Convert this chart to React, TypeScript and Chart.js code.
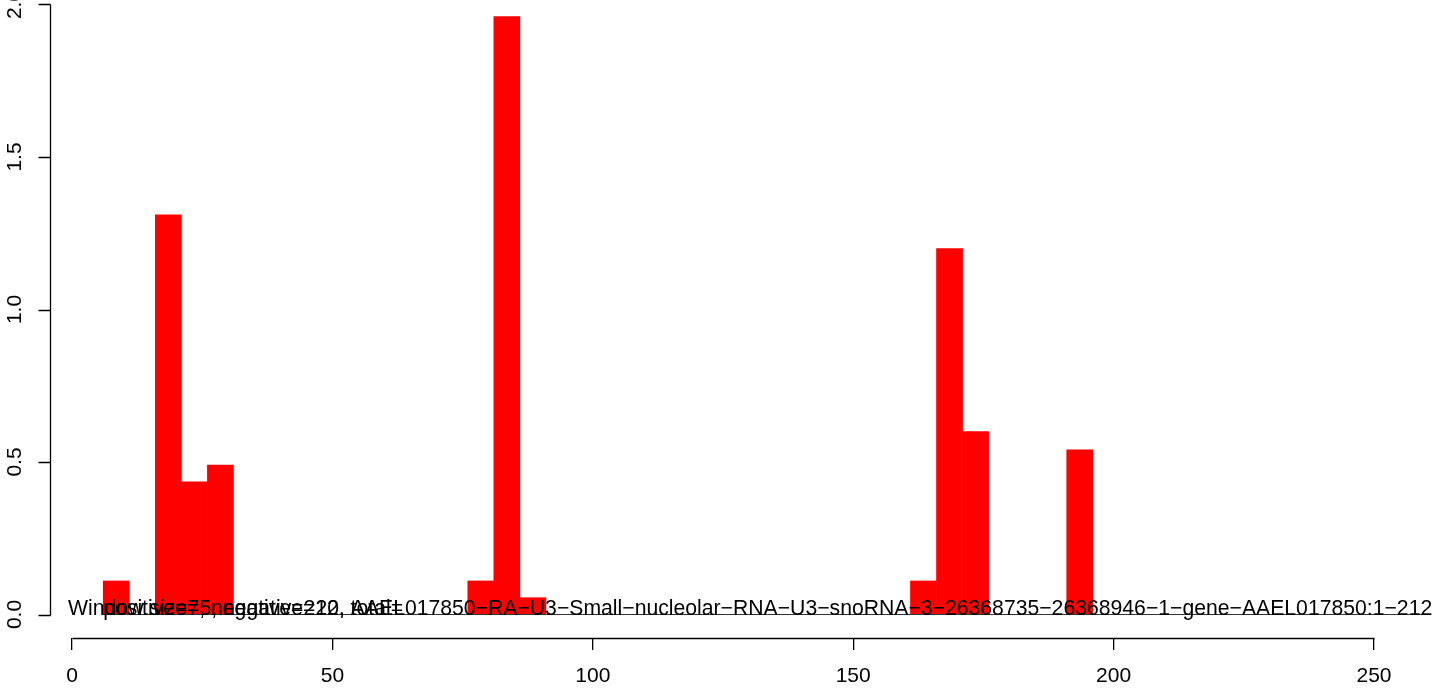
import React, { useEffect, useRef } from 'react';
import { Chart, registerables } from 'chart.js';

Chart.register(...registerables);

// ---- data ----
const binStarts = [6, 16, 21, 26, 76, 81, 86, 161, 166, 171, 191];
const binWidth = 5;
const binValues = [0.11, 1.31, 0.435, 0.49, 0.11, 1.96, 0.055, 0.11, 1.2, 0.6, 0.54];
const xTickValues = [0, 50, 100, 150, 200, 250];
const yTickValues = [0, 0.5, 1.0, 1.5, 2.0];
const yTickLabels = ['0.0', '0.5', '1.0', '1.5', '2.0'];
const baselineSpan = [6, 261];
const labelA =
  'Window size=5, negative=20, AAEL017850\u2212RA\u2212U3\u2212Small\u2212nucleolar\u2212RNA\u2212U3\u2212snoRNA\u22123\u221226368735\u221226368946\u22121\u2212gene\u2212AAEL017850:1\u2212212';
const labelB = 'positive=7, negative=212, total=';
const labelAX = -0.75;
const labelBX = 6;

const FONT = '"Liberation Sans", Arial, Helvetica, sans-serif';

const rAxesPlugin = {
  id: 'rAxes',
  afterDatasetsDraw(chart: any) {
    const { ctx } = chart;
    const xs = chart.scales.x;
    const ys = chart.scales.y;
    const y0 = ys.getPixelForValue(0);
    ctx.save();
    // annotation texts
    ctx.fillStyle = '#000';
    ctx.font = `21.2px ${FONT}`;
    ctx.textAlign = 'left';
    ctx.textBaseline = 'alphabetic';
    ctx.fillText(labelA, xs.getPixelForValue(labelAX), y0);
    ctx.fillText(labelB, xs.getPixelForValue(labelBX), y0);

    ctx.strokeStyle = '#000';
    ctx.lineWidth = 1.3;
    // x axis line (from first to last tick)
    const axY = Math.round(chart.chartArea.bottom) + 0.5;
    ctx.beginPath();
    ctx.moveTo(Math.round(xs.getPixelForValue(xTickValues[0])) + 0.5, axY);
    ctx.lineTo(Math.round(xs.getPixelForValue(xTickValues[xTickValues.length - 1])) + 0.5, axY);
    ctx.stroke();

    // y axis line, ticks and rotated labels
    const axX = Math.round(chart.chartArea.left) + 0.5;
    ctx.beginPath();
    ctx.moveTo(axX, Math.round(ys.getPixelForValue(yTickValues[0])) + 0.5);
    ctx.lineTo(axX, Math.round(ys.getPixelForValue(yTickValues[yTickValues.length - 1])) + 0.5);
    yTickValues.forEach((v) => {
      const py = Math.round(ys.getPixelForValue(v)) + 0.5;
      ctx.moveTo(axX - 12, py);
      ctx.lineTo(axX, py);
    });
    ctx.stroke();
    ctx.font = `21px ${FONT}`;
    yTickValues.forEach((v, i) => {
      ctx.save();
      ctx.translate(21, ys.getPixelForValue(v));
      ctx.rotate(-Math.PI / 2);
      ctx.textAlign = 'center';
      ctx.textBaseline = 'alphabetic';
      ctx.fillText(yTickLabels[i], 0, 0);
      ctx.restore();
    });
    ctx.restore();
  },
};

export default function App() {
  const ref = useRef<HTMLCanvasElement | null>(null);
  useEffect(() => {
    if (!ref.current) return;
    // pixel geometry: x 0 -> 72px, 250 -> 1374px; y 0 -> 614.5px, 2 -> 4.5px
    const pxPerX = (1374 - 72) / 250;
    const pxPerY = (614.5 - 4.5) / 2;
    const chart = new Chart(ref.current, {
      type: 'bar',
      data: {
        datasets: [
          {
            type: 'bar',
            data: binStarts.map((s, i) => ({ x: s + binWidth / 2, y: binValues[i] })),
            backgroundColor: '#FF0000',
            borderWidth: 0,
            categoryPercentage: 1,
            barPercentage: 1,
            order: 2,
          } as any,
          {
            type: 'line',
            data: baselineSpan.map((x) => ({ x, y: 0 })),
            borderColor: '#333333',
            borderWidth: 1,
            pointRadius: 0,
            order: 1,
          } as any,
        ],
      },
      options: {
        animation: false,
        responsive: false,
        devicePixelRatio: 1,
        layout: { padding: { left: 50, top: 0, right: 0, bottom: 0 } },
        plugins: { legend: { display: false }, tooltip: { enabled: false } },
        scales: {
          x: {
            type: 'linear',
            offset: false,
            min: -(72 - 50) / pxPerX,
            max: 250 + (1444 - 1374) / pxPerX,
            afterBuildTicks: (s: any) => {
              s.ticks = xTickValues.map((v) => ({ value: v }));
            },
            afterFit: (s: any) => {
              s.height = 51;
            },
            border: { display: false },
            grid: {
              offset: false,
              drawOnChartArea: false,
              drawTicks: true,
              tickLength: 12,
              color: '#000',
              lineWidth: 1.3,
            },
            ticks: {
              color: '#000',
              font: { family: FONT, size: 21 },
              padding: 14,
              maxRotation: 0,
              minRotation: 0,
              autoSkip: false,
              callback: (v: any) => String(v),
            },
          },
          y: {
            type: 'linear',
            display: false,
            min: -(638 - 614.5) / pxPerY,
            max: 2 + 4.5 / pxPerY,
          },
        },
      } as any,
      plugins: [rAxesPlugin],
    });
    return () => chart.destroy();
  }, []);
  return (
    <div style={{ position: 'absolute', left: 0, top: 0, width: 1444, height: 689, background: '#fff' }}>
      <canvas ref={ref} width={1444} height={689} style={{ display: 'block', width: 1444, height: 689 }} />
    </div>
  );
}
